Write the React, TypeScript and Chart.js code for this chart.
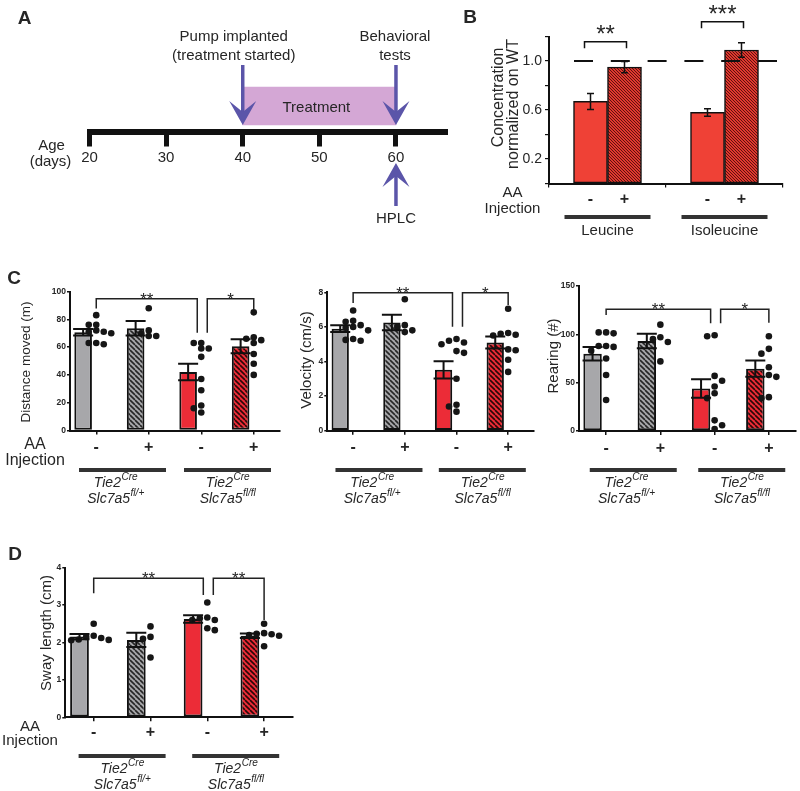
import React, { useEffect, useRef } from 'react';
import { Chart, registerables } from 'chart.js';

Chart.register(...registerables);

const W = 800;
const H = 791;
const FONT = '"Liberation Sans", Arial, Helvetica, sans-serif';
const INK = '#262626';
const AXIS = '#111111';

// ---------------- Panel A : timeline ----------------
const ageMin = 20;
const ageMax = 66.4;
const ageStep = 10;
const treatmentLabel = 'Treatment';
const treatmentDays = [40, 60];
const eventDays = [40, 60];
const eventLabels = [['Pump implanted', '(treatment started)'], ['Behavioral', 'tests']];
const hplcDay = 60;
const hplcLabel = 'HPLC';

// ---------------- Panel B : HPLC ----------------
const bCategories = ['Leucine', 'Isoleucine'];
const bMinusMean = [0.67, 0.58];
const bMinusSem = [0.065, 0.03];
const bPlusMean = [0.95, 1.09];
const bPlusSem = [0.045, 0.06];
const bLabelledTicks = [0.2, 0.6, 1.0];
const bReference = 1.0;
const bStars = ['**', '***'];
const bBracketLevel = [1.158, 1.32];

// ---------------- Panels C / D ----------------
const injection = ['-', '+', '-', '+'];
const genotypeLines = [
  [['Tie2', 'Cre'], ['Slc7a5', 'fl/+']],
  [['Tie2', 'Cre'], ['Slc7a5', 'fl/fl']],
];

const distanceMean = [70.7, 73.5, 42.1, 60.6];
const distanceSem = [2.3, 5.2, 6.0, 5.0];
const distanceDots = [
  [83, 76, 76, 72, 71, 71, 70, 63, 62, 63],
  [88, 72, 70, 68, 68],
  [63, 63, 59, 59, 53, 37, 29, 18, 16, 13],
  [85, 67, 66, 65, 63, 55, 48, 40],
];
const distanceStars = ['**', '*'];

const velocityMean = [5.9, 6.25, 3.52, 5.1];
const velocitySem = [0.2, 0.45, 0.5, 0.35];
const velocityDots = [
  [6.95, 6.35, 6.3, 6.1, 6.0, 5.95, 5.8, 5.3, 5.25, 5.2],
  [7.6, 6.0, 5.8, 5.7, 6.1],
  [5.3, 5.2, 5.1, 5.0, 4.6, 4.5, 3.0, 1.5, 1.4, 1.1],
  [7.05, 5.65, 5.6, 5.55, 5.5, 4.7, 4.65, 4.1, 3.4],
];
const velocityStars = ['**', '*'];

const rearingMean = [80, 93, 44, 64.5];
const rearingSem = [7, 7.5, 9.5, 8.5];
const rearingDots = [
  [102, 102, 101, 88, 88, 87, 83, 75, 58, 32],
  [110, 97, 95, 92, 72],
  [99, 98, 57, 52, 46, 39, 34, 11, 6, 2],
  [98, 85, 80, 66, 58, 56, 35, 34],
];
const rearingStars = ['**', '*'];

const swayMean = [2.16, 2.07, 2.63, 2.18];
const swaySem = [0.07, 0.19, 0.1, 0.06];
const swayDots = [
  [2.5, 2.18, 2.15, 2.12, 2.08, 2.07, 2.06],
  [2.43, 2.15, 2.1, 1.6],
  [3.07, 2.67, 2.65, 2.6, 2.6, 2.38, 2.33],
  [2.5, 2.25, 2.23, 2.22, 2.2, 2.18, 1.9],
];
const swayStars = ['**', '**'];

// ---------------- helpers ----------------
function hatch(ctx: CanvasRenderingContext2D, bg: string, line: string, size: number, lw: number) {
  const c = document.createElement('canvas');
  c.width = size;
  c.height = size;
  const g = c.getContext('2d') as CanvasRenderingContext2D;
  g.fillStyle = bg;
  g.fillRect(0, 0, size, size);
  g.strokeStyle = line;
  g.lineWidth = lw;
  g.beginPath();
  for (let k = -1; k <= 1; k++) {
    g.moveTo(k * size, 0);
    g.lineTo(k * size + size, size);
  }
  g.stroke();
  return ctx.createPattern(c, 'repeat');
}

function txt(ctx: any, s: string, x: number, y: number, font: string, align = 'center', baseline = 'middle', color = INK) {
  ctx.save();
  ctx.font = font;
  ctx.fillStyle = color;
  ctx.textAlign = align;
  ctx.textBaseline = baseline;
  ctx.fillText(s, x, y);
  ctx.restore();
}

function rotated(ctx: any, s: string, x: number, y: number, size: number) {
  ctx.save();
  ctx.translate(x, y);
  ctx.rotate(-Math.PI / 2);
  ctx.font = `${size}px ${FONT}`;
  ctx.fillStyle = INK;
  ctx.textAlign = 'center';
  ctx.textBaseline = 'middle';
  ctx.fillText(s, 0, 0);
  ctx.restore();
}

function supText(ctx: any, base: string, sup: string, cx: number, y: number, size: number) {
  ctx.save();
  const f1 = `italic ${size}px ${FONT}`;
  const f2 = `italic ${size * 0.72}px ${FONT}`;
  ctx.font = f1;
  const w1 = ctx.measureText(base).width;
  ctx.font = f2;
  const w2 = ctx.measureText(sup).width;
  const start = cx - (w1 + w2) / 2;
  ctx.fillStyle = INK;
  ctx.textAlign = 'left';
  ctx.textBaseline = 'middle';
  ctx.font = f1;
  ctx.fillText(base, start, y);
  ctx.font = f2;
  ctx.fillText(sup, start + w1 + 0.5, y - size * 0.38);
  ctx.restore();
}

function arrow(ctx: any, x: number, yTail: number, yTip: number, color: string) {
  const dir = yTip > yTail ? 1 : -1;
  const headLen = 24;
  const halfW = 13.5;
  const notch = 13;
  ctx.save();
  ctx.strokeStyle = color;
  ctx.fillStyle = color;
  ctx.lineWidth = 3.5;
  ctx.beginPath();
  ctx.moveTo(x, yTail);
  ctx.lineTo(x, yTip - dir * notch);
  ctx.stroke();
  ctx.beginPath();
  ctx.moveTo(x, yTip);
  ctx.lineTo(x - halfW, yTip - dir * headLen);
  ctx.lineTo(x, yTip - dir * notch);
  ctx.lineTo(x + halfW, yTip - dir * headLen);
  ctx.closePath();
  ctx.fill();
  ctx.restore();
}

function errorBarPlugin(sets: any[], capHalf: number, lw: number) {
  return {
    id: 'errorBars',
    afterDatasetsDraw(chart: any) {
      const ctx = chart.ctx;
      const ys = chart.scales.y;
      ctx.save();
      ctx.strokeStyle = AXIS;
      ctx.lineWidth = lw;
      sets.forEach(({ ds, sem }: any) => {
        const meta = chart.getDatasetMeta(ds);
        const values = chart.data.datasets[ds].data;
        meta.data.forEach((el: any, i: number) => {
          const v = values[i];
          const hi = ys.getPixelForValue(v + sem[i]);
          const lo = ys.getPixelForValue(v - sem[i]);
          ctx.beginPath();
          ctx.moveTo(el.x, hi);
          ctx.lineTo(el.x, lo);
          ctx.moveTo(el.x - capHalf, hi);
          ctx.lineTo(el.x + capHalf, hi);
          ctx.moveTo(el.x - capHalf, lo);
          ctx.lineTo(el.x + capHalf, lo);
          ctx.stroke();
        });
      });
      ctx.restore();
    },
  };
}

const baseOptions = {
  responsive: false,
  animation: false,
  events: [],
  plugins: { legend: { display: false }, tooltip: { enabled: false } },
};

// y axis fills 0..area.left, x axis fills area.bottom..H, so labels are not clipped
function framePadding(a: any) {
  return { left: 0, top: a.top, right: W - a.right, bottom: 0 };
}
const fitY = (a: any) => (s: any) => { s.width = a.left; };
const fitX = (a: any) => (s: any) => { s.height = H - a.bottom; };

// ---------------- Panel A config ----------------
function timelineConfig(): any {
  const area = { left: 89.5, top: 80.5, right: 445, bottom: 131.5 };
  const plugin = {
    id: 'timeline',
    afterDraw(chart: any) {
      const ctx = chart.ctx;
      const xs = chart.scales.x;
      const purple = '#5b55a9';
      txt(ctx, 'A', 24.5, 18.5, `bold 19px ${FONT}`);
      const bar = chart.getDatasetMeta(0).data[0];
      txt(ctx, treatmentLabel, (bar.x + bar.base) / 2 - 3, 107.5, `15px ${FONT}`);
      const shifts = [-9, -1];
      eventDays.forEach((d, i) => {
        const x = xs.getPixelForValue(d);
        arrow(ctx, x, 65, 125, purple);
        txt(ctx, eventLabels[i][0], x + shifts[i], 37, `15px ${FONT}`);
        txt(ctx, eventLabels[i][1], x + shifts[i], 55.5, `15px ${FONT}`);
      });
      const hx = xs.getPixelForValue(hplcDay);
      arrow(ctx, hx, 206, 163, purple);
      txt(ctx, hplcLabel, hx, 219, `15px ${FONT}`);
      txt(ctx, 'Age', 51.5, 146, `15px ${FONT}`);
      txt(ctx, '(days)', 50.5, 161.5, `15px ${FONT}`);
    },
  };
  return {
    type: 'bar',
    data: {
      labels: [treatmentLabel],
      datasets: [{ data: [treatmentDays], backgroundColor: '#d4a7d5', borderWidth: 0, barThickness: 38 }],
    },
    options: {
      ...baseOptions,
      indexAxis: 'y',
      layout: { padding: { left: area.left, top: area.top, right: W - area.right, bottom: 0 } },
      scales: {
        x: {
          type: 'linear',
          position: 'bottom',
          min: ageMin,
          max: ageMax,
          offset: false,
          afterFit: fitX(area),
          ticks: { stepSize: ageStep, includeBounds: false, color: INK, font: { family: FONT, size: 15 }, padding: 2, maxRotation: 0 },
          grid: { drawOnChartArea: false, tickLength: 15, color: AXIS, lineWidth: 5 },
          border: { color: AXIS, width: 6 },
        },
        y: { display: false },
      },
    },
    plugins: [plugin],
  };
}

// ---------------- Panel B config ----------------
function hplcConfig(ctx: CanvasRenderingContext2D): any {
  const area = { left: 549, top: 36.5, right: 783, bottom: 183.5 };
  const stripes = hatch(ctx, '#e0382f', '#5e120e', 3, 1);
  const plugin = {
    id: 'hplcAnnot',
    afterDraw(chart: any) {
      const c = chart.ctx;
      const ys = chart.scales.y;
      const xs = chart.scales.x;
      txt(c, 'B', 470, 17.5, `bold 19px ${FONT}`);
      c.save();
      c.strokeStyle = AXIS;
      c.lineWidth = 2.2;
      c.setLineDash([19, 17.8]);
      const ry = ys.getPixelForValue(bReference);
      c.beginPath();
      c.moveTo(574, ry);
      c.lineTo(chart.chartArea.right, ry);
      c.stroke();
      c.restore();
      rotated(c, 'Concentration', 498.5, 97.5, 16);
      rotated(c, 'normalized on WT', 514, 104, 16);
      const mMeta = chart.getDatasetMeta(0).data;
      const pMeta = chart.getDatasetMeta(1).data;
      c.save();
      c.strokeStyle = AXIS;
      c.lineWidth = 1.5;
      bCategories.forEach((name, i) => {
        const x0 = mMeta[i].x - 6;
        const x1 = pMeta[i].x + 2;
        const by = ys.getPixelForValue(bBracketLevel[i]);
        c.beginPath();
        c.moveTo(x0, by + 6.5);
        c.lineTo(x0, by);
        c.lineTo(x1, by);
        c.lineTo(x1, by + 6.5);
        c.stroke();
        txt(c, bStars[i], (x0 + x1) / 2, by, `24px ${FONT}`, 'center', 'alphabetic');
        txt(c, '-', mMeta[i].x, 200, `bold 16px ${FONT}`);
        txt(c, '+', pMeta[i].x, 200, `bold 16px ${FONT}`);
        const mid = xs.getPixelForValue(i);
        c.fillStyle = '#333';
        c.fillRect(mid - 43, 215, 86, 4);
        txt(c, name, mid, 231, `15px ${FONT}`);
      });
      c.restore();
      txt(c, 'AA', 512.5, 192.5, `15px ${FONT}`);
      txt(c, 'Injection', 512.5, 208.5, `15px ${FONT}`);
    },
  };
  return {
    type: 'bar',
    data: {
      labels: bCategories,
      datasets: [
        { data: bMinusMean, backgroundColor: '#ef4136', borderColor: AXIS, borderWidth: 1.5, borderSkipped: false, barThickness: 34 },
        { data: bPlusMean, backgroundColor: stripes, borderColor: AXIS, borderWidth: 1.5, borderSkipped: false, barThickness: 34 },
      ],
    },
    options: {
      ...baseOptions,
      layout: { padding: framePadding(area) },
      scales: {
        x: {
          afterFit: fitX(area),
          ticks: { display: false },
          grid: { drawOnChartArea: false, tickLength: 4, color: AXIS, lineWidth: 1.2 },
          border: { color: AXIS, width: 2 },
        },
        y: {
          min: 0,
          max: 1.2,
          afterFit: fitY(area),
          ticks: {
            stepSize: 0.2,
            color: INK,
            font: { family: FONT, size: 14 },
            padding: 3,
            callback: (v: any) => (bLabelledTicks.some((t) => Math.abs(t - v) < 1e-6) ? Number(v).toFixed(1) : ''),
          },
          grid: { drawOnChartArea: false, tickLength: 4, color: AXIS, lineWidth: 1.2 },
          border: { color: AXIS, width: 2 },
        },
      },
    },
    plugins: [
      errorBarPlugin([{ ds: 0, sem: bMinusSem }, { ds: 1, sem: bPlusSem }], 3.5, 1.5),
      plugin,
    ],
  };
}

// ---------------- Panels C / D config ----------------
// balanced beeswarm layout of the individual animals around each bar centre
function swarm(groups: number[][], pxPerUnit: number, catW: number) {
  const out: any[] = [];
  const spread = 7.5;
  const minDist = 5.5;
  groups.forEach((vals, gi) => {
    const placed: any[] = [];
    let left = 0;
    let right = 0;
    [...vals].sort((a, b) => b - a).forEach((v) => {
      const py = v * pxPerUnit;
      const dist = (cand: number) =>
        placed.length ? Math.min(...placed.map((q) => Math.hypot(q.ox - cand, q.py - py))) : Infinity;
      let chosen: number | null = null;
      let best = 0;
      let bestD = -1;
      for (let level = 0; level <= 3 && chosen === null; level++) {
        const opts = level === 0 ? [0] : left <= right ? [-level, level] : [level, -level];
        for (const k of opts) {
          const cand = k * spread;
          const d = dist(cand);
          if (d >= minDist) { chosen = cand; break; }
          if (d > bestD) { bestD = d; best = cand; }
        }
      }
      const ox = chosen === null ? best : chosen;
      if (ox < 0) left++;
      if (ox > 0) right++;
      placed.push({ ox, py });
      out.push({ x: gi + ox / catW, y: v });
    });
  });
  return out;
}

function behaviorConfig(ctx: CanvasRenderingContext2D, p: any): any {
  const a = p.area;
  const catW = (a.right - a.left) / 4;
  const pxPerUnit = (a.bottom - a.top) / p.max;
  const gray = '#a7a7aa';
  const red = '#ec2c37';
  const grayHatch = hatch(ctx, gray, '#262626', 5, 1.6);
  const redHatch = hatch(ctx, red, '#2a0808', 5, 1.6);
  const plugin = {
    id: 'behaviorAnnot',
    afterDraw(chart: any) {
      const c = chart.ctx;
      const xs = chart.scales.x;
      const ys = chart.scales.y;
      const cx = (i: number) => xs.getPixelForValue(i);
      const yy = (v: number) => ys.getPixelForValue(v);
      if (p.letter) txt(c, p.letter.text, p.letter.x, p.letter.y, `bold 19px ${FONT}`);
      rotated(c, p.title, p.titleX, p.titleY, p.titleSize);
      const b = p.bracket;
      const by = yy(b.y);
      const xsB = [cx(0), cx(2) - 4, cx(2) + 6, cx(3)];
      c.save();
      c.strokeStyle = '#222';
      c.lineWidth = 1.5;
      for (let k = 0; k < 2; k++) {
        const xa = xsB[2 * k];
        const xb = xsB[2 * k + 1];
        c.beginPath();
        c.moveTo(xa, yy(b.ends[2 * k]));
        c.lineTo(xa, by);
        c.lineTo(xb, by);
        c.lineTo(xb, yy(b.ends[2 * k + 1]));
        c.stroke();
        txt(c, p.stars[k], (xa + xb) / 2, by + 6, `17px ${FONT}`, 'center', 'alphabetic');
      }
      c.restore();
      for (let g = 0; g < 2; g++) {
        const mid = (cx(2 * g) + cx(2 * g + 1)) / 2;
        c.save();
        c.fillStyle = '#333';
        c.fillRect(mid - 43.5, p.underlineY - 2, 87, 4);
        c.restore();
        const shift = g === 0 ? p.genoShift : 0;
        supText(c, genotypeLines[g][0][0], genotypeLines[g][0][1], mid + shift, p.genoY[0], 14);
        supText(c, genotypeLines[g][1][0], genotypeLines[g][1][1], mid + shift, p.genoY[1], 14);
      }
      if (p.aa) {
        txt(c, 'AA', p.aa.x, p.aa.y1, `${p.aa.size}px ${FONT}`);
        txt(c, 'Injection', p.aa.x, p.aa.y2, `${p.aa.size}px ${FONT}`);
      }
    },
  };
  return {
    type: 'bar',
    data: {
      labels: injection,
      datasets: [
        {
          type: 'bar',
          data: p.mean,
          backgroundColor: [gray, grayHatch, red, redHatch],
          borderColor: AXIS,
          borderWidth: 2,
          borderSkipped: false,
          barPercentage: p.barPct,
          categoryPercentage: 1,
          order: 2,
        },
        {
          type: 'scatter',
          data: swarm(p.dots, pxPerUnit, catW),
          xAxisID: 'xd',
          yAxisID: 'y',
          pointRadius: 3.3,
          pointBackgroundColor: '#161616',
          pointBorderWidth: 0,
          order: 1,
        },
      ],
    },
    options: {
      ...baseOptions,
      layout: { padding: framePadding(a) },
      scales: {
        x: {
          type: 'category',
          position: 'bottom',
          offset: true,
          afterFit: fitX(a),
          grid: { offset: false, drawOnChartArea: false, tickLength: 4, color: AXIS, lineWidth: 1.5 },
          border: { color: AXIS, width: 2 },
          ticks: { color: INK, font: { family: FONT, size: 16, weight: 'bold' }, padding: p.tickPad, autoSkip: false, maxRotation: 0 },
        },
        xd: { type: 'linear', display: false, offset: false, grid: { offset: false }, min: -0.5, max: 3.5 },
        y: {
          min: 0,
          max: p.max,
          afterFit: fitY(a),
          ticks: { stepSize: p.step, color: INK, font: { family: FONT, size: 8.5, weight: 'bold' }, padding: 1 },
          grid: { drawOnChartArea: false, tickLength: 3, color: AXIS, lineWidth: 1.5 },
          border: { color: AXIS, width: 2 },
        },
      },
    },
    plugins: [errorBarPlugin([{ ds: 0, sem: p.sem }], 10, 2), plugin],
  };
}

const panelDistance = {
  area: { left: 70, top: 291.5, right: 280, bottom: 430.5 },
  max: 100, step: 20, barPct: 0.67,
  title: 'Distance moved (m)', titleSize: 13.5, titleX: 26, titleY: 362,
  mean: distanceMean, sem: distanceSem, dots: distanceDots, stars: distanceStars,
  bracket: { y: 94.7, ends: [87.7, 70.4, 70.4, 87] },
  tickPad: 3.7, underlineY: 470, genoY: [483, 499], genoShift: -7,
  aa: { x: 35, y1: 445, y2: 460.5, size: 16 },
  letter: { text: 'C', x: 14, y: 279 },
};
const panelVelocity = {
  area: { left: 327.3, top: 292.3, right: 534, bottom: 430.7 },
  max: 8, step: 2, barPct: 0.67,
  title: 'Velocity (cm/s)', titleSize: 15, titleX: 306.5, titleY: 360,
  mean: velocityMean, sem: velocitySem, dots: velocityDots, stars: velocityStars,
  bracket: { y: 7.98, ends: [7.38, 6.01, 6.01, 7.27] },
  tickPad: 3.7, underlineY: 470, genoY: [483, 499], genoShift: -7,
};
const panelRearing = {
  area: { left: 579, top: 286, right: 797, bottom: 431 },
  max: 150, step: 50, barPct: 0.68,
  title: 'Rearing (#)', titleSize: 15, titleX: 554, titleY: 356,
  mean: rearingMean, sem: rearingSem, dots: rearingDots, stars: rearingStars,
  bracket: { y: 125.9, ends: [120, 111.4, 111.4, 112] },
  tickPad: 3.7, underlineY: 470, genoY: [483, 499], genoShift: -7,
};
const panelSway = {
  area: { left: 65.3, top: 567.7, right: 292.5, bottom: 717.3 },
  max: 4, step: 1, barPct: 0.66,
  title: 'Sway length (cm)', titleSize: 15, titleX: 46.5, titleY: 633,
  mean: swayMean, sem: swaySem, dots: swayDots, stars: swayStars,
  bracket: { y: 3.72, ends: [3.32, 3.27, 3.27, 2.6] },
  tickPad: 2.1, underlineY: 756, genoY: [769, 785], genoShift: 0,
  aa: { x: 30, y1: 726.7, y2: 740.5, size: 15 },
  letter: { text: 'D', x: 15, y: 555 },
};

export default function App() {
  const refs = useRef<(HTMLCanvasElement | null)[]>([]);

  useEffect(() => {
    const cv = refs.current;
    const ctxOf = (i: number) => (cv[i] as HTMLCanvasElement).getContext('2d') as CanvasRenderingContext2D;
    const charts = [
      new Chart(cv[0] as any, timelineConfig()),
      new Chart(cv[1] as any, hplcConfig(ctxOf(1))),
      new Chart(cv[2] as any, behaviorConfig(ctxOf(2), panelDistance)),
      new Chart(cv[3] as any, behaviorConfig(ctxOf(3), panelVelocity)),
      new Chart(cv[4] as any, behaviorConfig(ctxOf(4), panelRearing)),
      new Chart(cv[5] as any, behaviorConfig(ctxOf(5), panelSway)),
    ];
    return () => charts.forEach((c) => c.destroy());
  }, []);

  return (
    <div style={{ position: 'fixed', left: 0, top: 0, width: W, height: H, background: '#ffffff', overflow: 'hidden' }}>
      {[0, 1, 2, 3, 4, 5].map((i) => (
        <canvas
          key={i}
          ref={(el) => { refs.current[i] = el; }}
          width={W}
          height={H}
          style={{ position: 'absolute', left: 0, top: 0, width: W, height: H }}
        />
      ))}
    </div>
  );
}
